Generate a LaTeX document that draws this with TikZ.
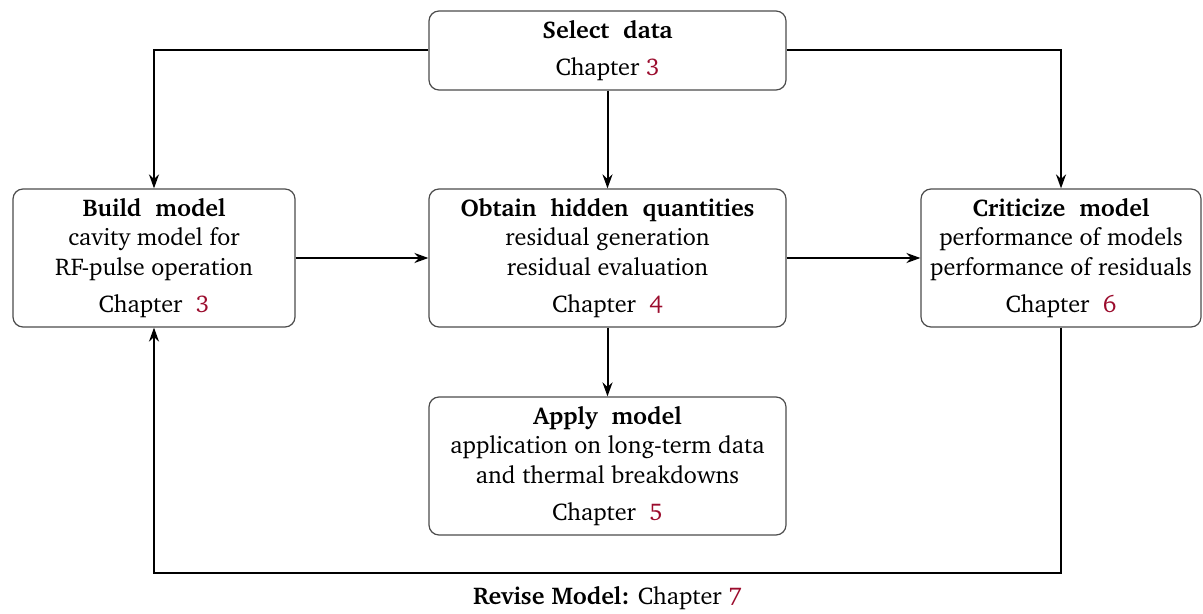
\documentclass[tikz,border=0pt]{standalone}
\usepackage[T1]{fontenc}
\usepackage{charter}
\usetikzlibrary{arrows.meta}
\definecolor{chapred}{RGB}{155,12,45}
\newcommand{\chapnum}[1]{\textcolor{chapred}{#1}}
\begin{document}
\begin{tikzpicture}[x=0.5pt,y=-0.5pt,
  stagebox/.style={draw=black!70, line width=0.6pt, rounded corners=5pt,
    align=center, inner sep=0pt, font=\fontsize{12.1}{14.6}\selectfont},
  flow/.style={-{Stealth[length=7pt,width=5pt]}, line width=1pt}]
\useasboundingbox (0,0) rectangle (1203,614);

% process stages
\node[stagebox, minimum width=178.5pt, minimum height=39.5pt] (sel) at (607.5,50.5)
  {\textbf{Select~~data}\\[4pt] Chapter \chapnum{3}};
\node[stagebox, minimum width=141pt, minimum height=69pt] (build) at (154,258)
  {\textbf{Build~~model}\\ cavity model for\\ RF-pulse operation\\[4pt] Chapter~~\chapnum{3}};
\node[stagebox, minimum width=178.5pt, minimum height=69pt] (obt) at (607.5,258)
  {\textbf{Obtain~~hidden~~quantities}\\ residual generation\\ residual evaluation\\[4pt] Chapter~~\chapnum{4}};
\node[stagebox, minimum width=140pt, minimum height=69pt] (crit) at (1061,258)
  {\textbf{Criticize~~model}\\ performance of models\\ performance of residuals\\[4pt] Chapter~~\chapnum{6}};
\node[stagebox, minimum width=178.5pt, minimum height=69pt] (app) at (607.5,466)
  {\textbf{Apply~~model}\\ application on long-term data\\ and thermal breakdowns\\[4pt] Chapter~~\chapnum{5}};

% forward connections
\draw[flow] (sel.west) -| (build.north);
\draw[flow] (sel.east) -| (crit.north);
\draw[flow] (sel) -- (obt);
\draw[flow] (build) -- (obt);
\draw[flow] (obt) -- (crit);
\draw[flow] (obt) -- (app);

% revision loop
\coordinate (fbR) at (1061,573);
\coordinate (fbL) at (154,573);
\draw[flow] (crit.south) -- (fbR) -- (fbL) -- (build.south);
\node[font=\fontsize{12.1}{14.6}\selectfont] (revise) at (607.5,598)
  {\textbf{Revise Model:} Chapter \chapnum{7}};
\end{tikzpicture}
\end{document}
